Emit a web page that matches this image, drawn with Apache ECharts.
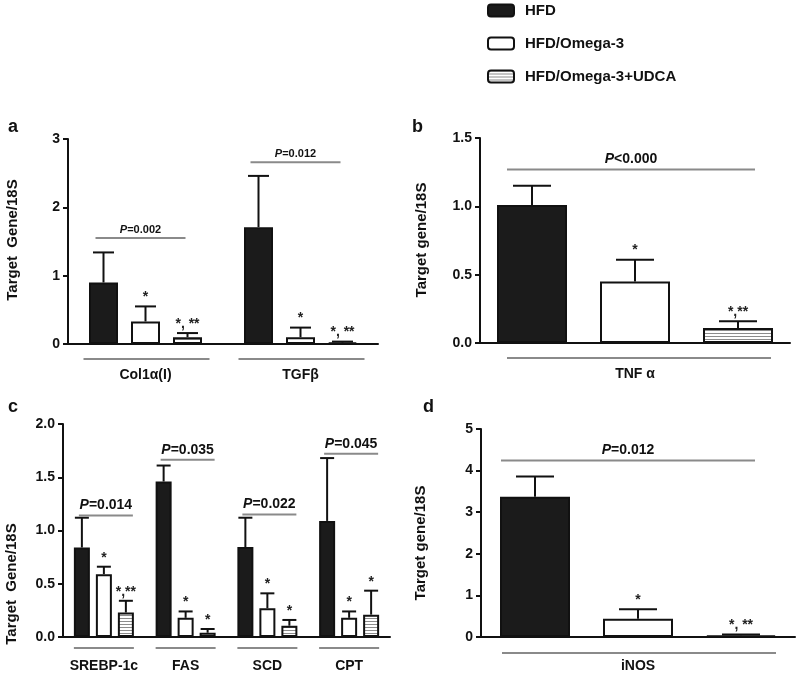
<!DOCTYPE html>
<html><head><meta charset="utf-8">
<script src="https://cdn.jsdelivr.net/npm/echarts@6/dist/echarts.min.js"></script>
<style>html,body{margin:0;padding:0;background:#fff}#c{width:798px;height:673px}</style>
</head><body><div id="c"></div>
<script>
// ---------- DATA ----------
const groups = ['HFD', 'HFD/Omega-3', 'HFD/Omega-3+UDCA'];

// Panel a
const catsA = ['Col1α(I)', 'TGFβ'];
const aHFD = [0.90, 1.71];
const aHFDErr = [0.44, 0.75];
const aOmega = [0.33, 0.10];
const aOmegaErr = [0.22, 0.14];
const aUDCA = [0.10, 0.02];
const aUDCAErr = [0.06, 0.015];
const aStarsOmega = ['*', '*'];
const aStarsUDCA = ['*, **', '*, **'];
const aPLevel = [1.55, 2.66];
const aPText = ['P=0.002', 'P=0.012'];
const aTicks = [0, 1, 2, 3];

// Panel b
const catsB = ['TNF α'];
const bHFD = [1.01];
const bHFDErr = [0.14];
const bOmega = [0.45];
const bOmegaErr = [0.16];
const bUDCA = [0.11];
const bUDCAErr = [0.05];
const bStarsOmega = ['*'];
const bStarsUDCA = ['*,**'];
const bPLevel = [1.27];
const bPText = ['P<0.000'];
const bTicks = [0, 0.5, 1.0, 1.5];

// Panel c
const catsC = ['SREBP-1c', 'FAS', 'SCD', 'CPT'];
const cHFD = [0.84, 1.46, 0.845, 1.09];
const cHFDErr = [0.28, 0.15, 0.275, 0.59];
const cOmega = [0.59, 0.18, 0.27, 0.18];
const cOmegaErr = [0.07, 0.06, 0.14, 0.06];
const cUDCA = [0.23, 0.04, 0.106, 0.21];
const cUDCAErr = [0.11, 0.035, 0.054, 0.225];
const cStarsOmega = ['*', '*', '*', '*'];
const cStarsUDCA = ['*,**', '*', '*', '*'];
const cPLevel = [1.14, 1.665, 1.15, 1.72];
const cPText = ['P=0.014', 'P=0.035', 'P=0.022', 'P=0.045'];
const cTicks = [0, 0.5, 1.0, 1.5, 2.0];

// Panel d
const catsD = ['iNOS'];
const dHFD = [3.37];
const dHFDErr = [0.49];
const dOmega = [0.44];
const dOmegaErr = [0.23];
const dUDCA = [0.04];
const dUDCAErr = [0.02];
const dStarsOmega = ['*'];
const dStarsUDCA = ['*, **'];
const dPLevel = [4.24];
const dPText = ['P=0.012'];
const dTicks = [0, 1, 2, 3, 4, 5];

// ---------- STYLE / LAYOUT ----------
const FONT = '"Liberation Sans", Arial, sans-serif';
const stripe = (function () {
  const cv = document.createElement('canvas');
  cv.width = 4; cv.height = 3;
  const ctx = cv.getContext('2d');
  ctx.fillStyle = '#ffffff'; ctx.fillRect(0, 0, 4, 3);
  ctx.fillStyle = '#8c8c8c'; ctx.fillRect(0, 0, 4, 1);
  return cv;
})();
const fills = ['#1b1b1b', '#ffffff', { image: stripe, repeat: 'repeat' }];

const panels = [
  { cats: catsA, vals: [aHFD, aOmega, aUDCA], errs: [aHFDErr, aOmegaErr, aUDCAErr], stars: [null, aStarsOmega, aStarsUDCA],
    pLevel: aPLevel, pText: aPText, ticks: aTicks, dec: 0,
    grid: { left: 68, top: 139, width: 310, height: 205 }, bw: 29, gap: 13, cap: 21,
    pl: -50, pr: 40, ul: -62, ur: 64, ud: 15, pFont: 11, labMargin: 24 },
  { cats: catsB, vals: [bHFD, bOmega, bUDCA], errs: [bHFDErr, bOmegaErr, bUDCAErr], stars: [null, bStarsOmega, bStarsUDCA],
    pLevel: bPLevel, pText: bPText, ticks: bTicks, dec: 1,
    grid: { left: 480, top: 138, width: 310, height: 205 }, bw: 70, gap: 33, cap: 38,
    pl: -128, pr: 120, ul: -128, ur: 136, ud: 15, pFont: 14, labMargin: 24 },
  { cats: catsC, vals: [cHFD, cOmega, cUDCA], errs: [cHFDErr, cOmegaErr, cUDCAErr], stars: [null, cStarsOmega, cStarsUDCA],
    pLevel: cPLevel, pText: cPText, ticks: cTicks, dec: 1,
    grid: { left: 63, top: 424, width: 327, height: 213 }, bw: 16, gap: 6, cap: 14,
    pl: -25, pr: 29, ul: -30, ur: 30, ud: 11, pFont: 14, labMargin: 22 },
  { cats: catsD, vals: [dHFD, dOmega, dUDCA], errs: [dHFDErr, dOmegaErr, dUDCAErr], stars: [null, dStarsOmega, dStarsUDCA],
    pLevel: dPLevel, pText: dPText, ticks: dTicks, dec: 0,
    grid: { left: 481, top: 429, width: 314, height: 208 }, bw: 70, gap: 33, cap: 38,
    pl: -137, pr: 117, ul: -136, ur: 138, ud: 16, pFont: 14, labMargin: 22 }
];

const grids = [], xAxes = [], yAxes = [], series = [];
panels.forEach(function (p, pi) {
  grids.push(p.grid);
  xAxes.push({
    type: 'category', gridIndex: pi, data: p.cats,
    axisLine: { lineStyle: { color: '#111', width: 2 } },
    axisTick: { show: false },
    axisLabel: { interval: 0, margin: p.labMargin, color: '#111', fontFamily: FONT, fontWeight: 'bold', fontSize: 14 }
  });
  const tk = p.ticks;
  yAxes.push({
    type: 'value', gridIndex: pi, min: tk[0], max: tk[tk.length - 1], interval: tk[1] - tk[0],
    splitLine: { show: false },
    axisLine: { show: true, lineStyle: { color: '#111', width: 2 } },
    axisTick: { show: true, length: 5, lineStyle: { color: '#111', width: 2 } },
    axisLabel: { margin: 8, color: '#111', fontFamily: FONT, fontWeight: 'bold', fontSize: 14,
      formatter: function (v) { return v.toFixed(p.dec); } }
  });
  // bars
  for (let g = 0; g < 3; g++) {
    series.push({
      type: 'bar', name: groups[g], xAxisIndex: pi, yAxisIndex: pi,
      data: p.vals[g], barWidth: p.bw, barGap: (p.gap / p.bw * 100) + '%',
      itemStyle: { color: fills[g], borderColor: '#111', borderWidth: 2 },
      emphasis: { disabled: true }, z: 2
    });
  }
  // error bars + stars
  const errData = [], starList = [];
  for (let g = 0; g < 3; g++) {
    p.vals[g].forEach(function (v, i) {
      errData.push([i, g, v, p.errs[g][i], v + p.errs[g][i]]);
      starList.push(p.stars[g] ? p.stars[g][i] : '');
    });
  }
  series.push({
    type: 'custom', xAxisIndex: pi, yAxisIndex: pi, data: errData, z: 3, silent: true,
    encode: { x: 0, y: 4 },
    renderItem: function (params, api) {
      const cat = api.value(0), g = api.value(1), m = api.value(2), e = api.value(3);
      const cx = api.coord([cat, 0])[0] + (g - 1) * (p.bw + p.gap);
      const yb = api.coord([cat, m])[1], yt = api.coord([cat, m + e])[1];
      const hw = p.cap / 2;
      const ls = { stroke: '#111', lineWidth: 2 };
      const ch = [
        { type: 'line', shape: { x1: cx, y1: yb, x2: cx, y2: yt }, style: ls },
        { type: 'line', shape: { x1: cx - hw, y1: yt, x2: cx + hw, y2: yt }, style: ls }
      ];
      const s = starList[params.dataIndex];
      if (s) ch.push({ type: 'text', x: cx, y: yt - 2, style: { text: s, fill: '#222', font: 'bold 14px ' + FONT, align: 'center', verticalAlign: 'bottom' } });
      return { type: 'group', children: ch };
    }
  });
  // P lines and category underlines
  const annData = p.pLevel.map(function (lv, i) { return [i, lv]; });
  series.push({
    type: 'custom', xAxisIndex: pi, yAxisIndex: pi, data: annData, z: 3, silent: true, clip: false,
    encode: { x: 0, y: 1 },
    renderItem: function (params, api) {
      const cat = api.value(0), lv = api.value(1);
      const c0 = api.coord([cat, 0]);
      const cx = c0[0], y0 = c0[1];
      const yl = api.coord([cat, lv])[1];
      const gs = { stroke: '#8a8a8a', lineWidth: 2 };
      const txt = p.pText[params.dataIndex];
      return { type: 'group', children: [
        { type: 'line', shape: { x1: cx + p.pl, y1: yl, x2: cx + p.pr, y2: yl }, style: gs },
        { type: 'text', x: cx + (p.pl + p.pr) / 2, y: yl - 3, style: {
            text: '{i|' + txt.charAt(0) + '}{n|' + txt.slice(1) + '}', align: 'center', verticalAlign: 'bottom',
            rich: { i: { fontFamily: FONT, fontWeight: 'bold', fontStyle: 'italic', fontSize: p.pFont, fill: '#111' },
                    n: { fontFamily: FONT, fontWeight: 'bold', fontSize: p.pFont, fill: '#111' } } } },
        { type: 'line', shape: { x1: cx + p.ul, y1: y0 + p.ud, x2: cx + p.ur, y2: y0 + p.ud }, style: gs }
      ] };
    }
  });
});

const titleFont = 'bold 15px ' + FONT;
const option = {
  backgroundColor: '#fff',
  animation: false,
  grid: grids, xAxis: xAxes, yAxis: yAxes, series: series,
  legend: {
    orient: 'vertical', left: 482, top: -2, itemWidth: 26, itemHeight: 12, itemGap: 18,
    icon: 'roundRect', selectedMode: false, data: groups,
    textStyle: { fontFamily: FONT, fontWeight: 'bold', fontSize: 15, color: '#111', padding: [0, 0, 0, 6] }
  },
  graphic: [
    { type: 'text', x: 8, y: 118, style: { text: 'a', font: 'bold 18px ' + FONT, fill: '#111' } },
    { type: 'text', x: 412, y: 118, style: { text: 'b', font: 'bold 18px ' + FONT, fill: '#111' } },
    { type: 'text', x: 8, y: 398, style: { text: 'c', font: 'bold 18px ' + FONT, fill: '#111' } },
    { type: 'text', x: 423, y: 398, style: { text: 'd', font: 'bold 18px ' + FONT, fill: '#111' } },
    { type: 'text', x: 13, y: 240, rotation: Math.PI / 2, style: { text: 'Target  Gene/18S', font: titleFont, fill: '#111', align: 'center', verticalAlign: 'middle' } },
    { type: 'text', x: 422, y: 240, rotation: Math.PI / 2, style: { text: 'Target gene/18S', font: titleFont, fill: '#111', align: 'center', verticalAlign: 'middle' } },
    { type: 'text', x: 12, y: 584, rotation: Math.PI / 2, style: { text: 'Target  Gene/18S', font: titleFont, fill: '#111', align: 'center', verticalAlign: 'middle' } },
    { type: 'text', x: 421, y: 543, rotation: Math.PI / 2, style: { text: 'Target gene/18S', font: titleFont, fill: '#111', align: 'center', verticalAlign: 'middle' } }
  ]
};
const chart = echarts.init(document.getElementById('c'), null, { renderer: 'canvas' });
chart.setOption(option);
</script>
</body></html>
